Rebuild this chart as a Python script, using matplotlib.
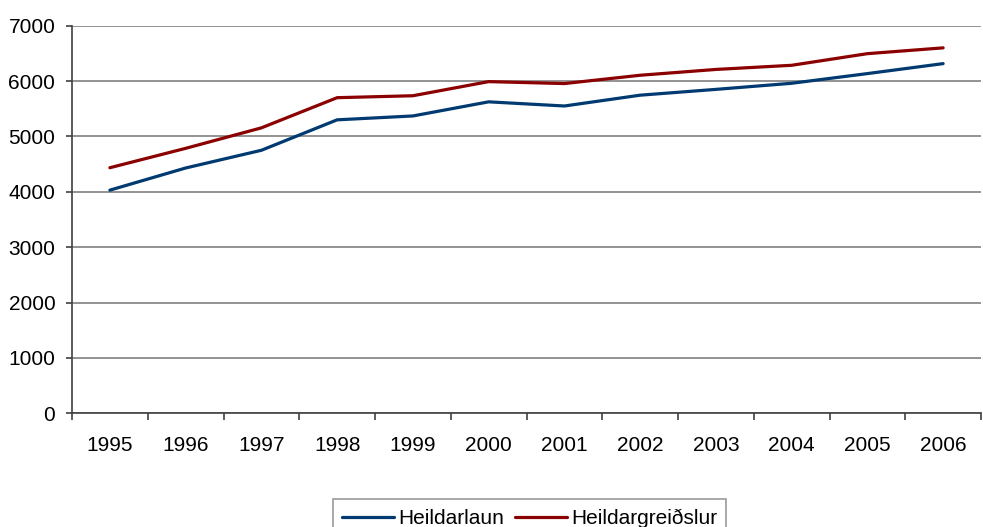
import numpy as np
import matplotlib.pyplot as plt

# data
years = ['1995', '1996', '1997', '1998', '1999', '2000',
         '2001', '2002', '2003', '2004', '2005', '2006']
heildarlaun = [4030, 4430, 4750, 5300, 5370, 5625,
               5550, 5745, 5850, 5960, 6135, 6315]
heildargreidslur = [4435, 4785, 5155, 5700, 5735, 5990,
                    5955, 6105, 6210, 6285, 6495, 6600]

plt.rcParams['font.family'] = ['Liberation Sans', 'DejaVu Sans']
plt.rcParams['font.size'] = 15

W, H = 983, 527
fig = plt.figure(figsize=(W / 100, H / 100), dpi=100)
ax = fig.add_axes([72 / W, 1 - 413.3 / H, (981 - 72) / W, (413.3 - 25.7) / H])

x = np.arange(len(years))
ax.plot(x, heildarlaun, color='#003A70', lw=2.3, label='Heildarlaun',
        solid_capstyle='round')
ax.plot(x, heildargreidslur, color='#8B0000', lw=2.3, label='Heildargreiðslur',
        solid_capstyle='round')

ax.set_ylim(0, 7000)
ax.set_yticks(range(0, 7001, 1000))
ax.set_xlim(-0.5, len(years) - 0.5)
ax.set_xticks(np.arange(-0.5, len(years)), labels=[])
ax.set_xticks(x, labels=years, minor=True)

ax.grid(axis='y', color='#808080', lw=1.2)
ax.set_axisbelow(True)
for s in ['top', 'right']:
    ax.spines[s].set_visible(False)
for s in ['left', 'bottom']:
    ax.spines[s].set_color('#404040')
    ax.spines[s].set_linewidth(1.2)

ax.tick_params(axis='y', direction='out', length=4, width=1.2, color='#404040', pad=8)
ax.tick_params(axis='x', which='major', direction='out', length=5, width=1.2, color='#404040')
ax.tick_params(axis='x', which='minor', length=0, pad=16)

leg = fig.legend(loc='upper center', bbox_to_anchor=(529.5 / W, 1 - 489 / H),
                 ncol=2, frameon=True, fancybox=False, handlelength=2.5,
                 columnspacing=0.5, handletextpad=0.2, borderpad=0.45)
leg.get_frame().set_edgecolor('#808080')
leg.get_frame().set_linewidth(1.2)

fig.savefig('out.png', dpi=100)
